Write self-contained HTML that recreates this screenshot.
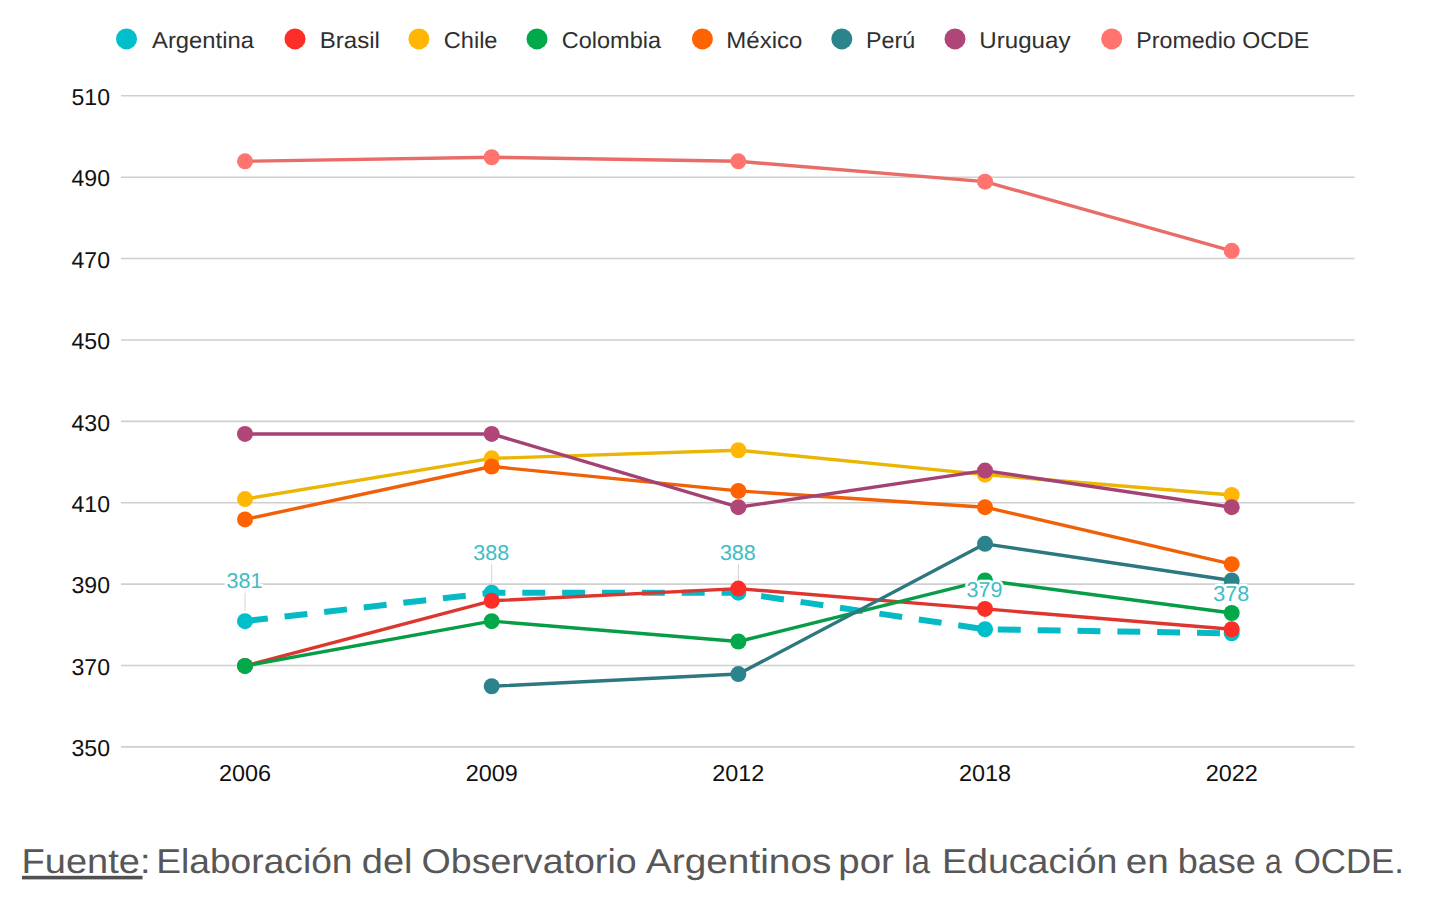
<!DOCTYPE html>
<html><head><meta charset="utf-8"><style>
html,body{margin:0;padding:0;background:#fff;width:1440px;height:918px;overflow:hidden}
svg{position:absolute;left:0;top:0;display:block}
text{font-family:"Liberation Sans",sans-serif;text-rendering:geometricPrecision}
.ax{font-size:23px;fill:#111}
.lg{font-size:22.8px;fill:#303030}
.dl{font-size:21.5px;fill:#40bcc5;stroke:#fff;stroke-width:5;paint-order:stroke;stroke-linejoin:round}
.ft{font-size:34.5px;fill:#575757}
</style></head><body>
<svg width="1440" height="918" viewBox="0 0 1440 918">
<line x1="121" x2="1354.5" y1="95.80" y2="95.80" stroke="#cfcfcf" stroke-width="1.6"/>
<text x="110" y="105.00" text-anchor="end" class="ax" textLength="38.5" lengthAdjust="spacingAndGlyphs">510</text>
<line x1="121" x2="1354.5" y1="177.19" y2="177.19" stroke="#cfcfcf" stroke-width="1.6"/>
<text x="110" y="186.39" text-anchor="end" class="ax" textLength="38.5" lengthAdjust="spacingAndGlyphs">490</text>
<line x1="121" x2="1354.5" y1="258.57" y2="258.57" stroke="#cfcfcf" stroke-width="1.6"/>
<text x="110" y="267.77" text-anchor="end" class="ax" textLength="38.5" lengthAdjust="spacingAndGlyphs">470</text>
<line x1="121" x2="1354.5" y1="339.96" y2="339.96" stroke="#cfcfcf" stroke-width="1.6"/>
<text x="110" y="349.16" text-anchor="end" class="ax" textLength="38.5" lengthAdjust="spacingAndGlyphs">450</text>
<line x1="121" x2="1354.5" y1="421.34" y2="421.34" stroke="#cfcfcf" stroke-width="1.6"/>
<text x="110" y="430.54" text-anchor="end" class="ax" textLength="38.5" lengthAdjust="spacingAndGlyphs">430</text>
<line x1="121" x2="1354.5" y1="502.73" y2="502.73" stroke="#cfcfcf" stroke-width="1.6"/>
<text x="110" y="511.93" text-anchor="end" class="ax" textLength="38.5" lengthAdjust="spacingAndGlyphs">410</text>
<line x1="121" x2="1354.5" y1="584.12" y2="584.12" stroke="#cfcfcf" stroke-width="1.6"/>
<text x="110" y="593.32" text-anchor="end" class="ax" textLength="38.5" lengthAdjust="spacingAndGlyphs">390</text>
<line x1="121" x2="1354.5" y1="665.50" y2="665.50" stroke="#cfcfcf" stroke-width="1.6"/>
<text x="110" y="674.70" text-anchor="end" class="ax" textLength="38.5" lengthAdjust="spacingAndGlyphs">370</text>
<line x1="121" x2="1354.5" y1="746.89" y2="746.89" stroke="#cfcfcf" stroke-width="1.6"/>
<text x="110" y="756.09" text-anchor="end" class="ax" textLength="38.5" lengthAdjust="spacingAndGlyphs">350</text>
<text x="245.00" y="780.8" text-anchor="middle" class="ax" textLength="52" lengthAdjust="spacingAndGlyphs">2006</text>
<text x="491.68" y="780.8" text-anchor="middle" class="ax" textLength="52" lengthAdjust="spacingAndGlyphs">2009</text>
<text x="738.35" y="780.8" text-anchor="middle" class="ax" textLength="52" lengthAdjust="spacingAndGlyphs">2012</text>
<text x="985.03" y="780.8" text-anchor="middle" class="ax" textLength="52" lengthAdjust="spacingAndGlyphs">2018</text>
<text x="1231.70" y="780.8" text-anchor="middle" class="ax" textLength="52" lengthAdjust="spacingAndGlyphs">2022</text>
<line x1="245.00" x2="245.00" y1="592.64" y2="611.14" stroke="#d4d4d4" stroke-width="1"/>
<line x1="491.68" x2="491.68" y1="564.15" y2="582.65" stroke="#d4d4d4" stroke-width="1"/>
<line x1="738.35" x2="738.35" y1="564.15" y2="582.65" stroke="#d4d4d4" stroke-width="1"/>
<line x1="985.03" x2="985.03" y1="600.78" y2="619.28" stroke="#d4d4d4" stroke-width="1"/>
<line x1="1231.70" x2="1231.70" y1="604.85" y2="623.35" stroke="#d4d4d4" stroke-width="1"/>
<path d="M245.00 621.14 L491.68 592.65 L738.35 592.65 L985.03 629.28 L1231.70 633.35" fill="none" stroke="#06bac5" stroke-width="6" stroke-dasharray="22.95 16.9" stroke-linejoin="round"/>
<circle cx="245.00" cy="621.14" r="8" fill="#00bfcb"/>
<circle cx="491.68" cy="592.65" r="8" fill="#00bfcb"/>
<circle cx="738.35" cy="592.65" r="8" fill="#00bfcb"/>
<circle cx="985.03" cy="629.28" r="8" fill="#00bfcb"/>
<circle cx="1231.70" cy="633.35" r="8" fill="#00bfcb"/>
<path d="M245.00 665.90 L491.68 600.79 L738.35 588.59 L985.03 608.93 L1231.70 629.28" fill="none" stroke="#dd362f" stroke-width="3.4" stroke-linejoin="round"/>
<circle cx="245.00" cy="665.90" r="8" fill="#fd2d27"/>
<circle cx="491.68" cy="600.79" r="8" fill="#fd2d27"/>
<circle cx="738.35" cy="588.59" r="8" fill="#fd2d27"/>
<circle cx="985.03" cy="608.93" r="8" fill="#fd2d27"/>
<circle cx="1231.70" cy="629.28" r="8" fill="#fd2d27"/>
<path d="M245.00 499.06 L491.68 458.37 L738.35 450.23 L985.03 474.64 L1231.70 494.99" fill="none" stroke="#ebb603" stroke-width="3.4" stroke-linejoin="round"/>
<circle cx="245.00" cy="499.06" r="8" fill="#ffb703"/>
<circle cx="491.68" cy="458.37" r="8" fill="#ffb703"/>
<circle cx="738.35" cy="450.23" r="8" fill="#ffb703"/>
<circle cx="985.03" cy="474.64" r="8" fill="#ffb703"/>
<circle cx="1231.70" cy="494.99" r="8" fill="#ffb703"/>
<path d="M245.00 665.90 L491.68 621.14 L738.35 641.49 L985.03 580.45 L1231.70 613.00" fill="none" stroke="#079c46" stroke-width="3.4" stroke-linejoin="round"/>
<circle cx="245.00" cy="665.90" r="8" fill="#02a94a"/>
<circle cx="491.68" cy="621.14" r="8" fill="#02a94a"/>
<circle cx="738.35" cy="641.49" r="8" fill="#02a94a"/>
<circle cx="985.03" cy="580.45" r="8" fill="#02a94a"/>
<circle cx="1231.70" cy="613.00" r="8" fill="#02a94a"/>
<path d="M245.00 519.41 L491.68 466.51 L738.35 490.92 L985.03 507.20 L1231.70 564.17" fill="none" stroke="#f06008" stroke-width="3.4" stroke-linejoin="round"/>
<circle cx="245.00" cy="519.41" r="8" fill="#ff6200"/>
<circle cx="491.68" cy="466.51" r="8" fill="#ff6200"/>
<circle cx="738.35" cy="490.92" r="8" fill="#ff6200"/>
<circle cx="985.03" cy="507.20" r="8" fill="#ff6200"/>
<circle cx="1231.70" cy="564.17" r="8" fill="#ff6200"/>
<path d="M491.68 686.25 L738.35 674.04 L985.03 543.82 L1231.70 580.45" fill="none" stroke="#2d7880" stroke-width="3.4" stroke-linejoin="round"/>
<circle cx="491.68" cy="686.25" r="8" fill="#2b838b"/>
<circle cx="738.35" cy="674.04" r="8" fill="#2b838b"/>
<circle cx="985.03" cy="543.82" r="8" fill="#2b838b"/>
<circle cx="1231.70" cy="580.45" r="8" fill="#2b838b"/>
<path d="M245.00 433.95 L491.68 433.95 L738.35 507.20 L985.03 470.58 L1231.70 507.20" fill="none" stroke="#a44373" stroke-width="3.4" stroke-linejoin="round"/>
<circle cx="245.00" cy="433.95" r="8" fill="#b04677"/>
<circle cx="491.68" cy="433.95" r="8" fill="#b04677"/>
<circle cx="738.35" cy="507.20" r="8" fill="#b04677"/>
<circle cx="985.03" cy="470.58" r="8" fill="#b04677"/>
<circle cx="1231.70" cy="507.20" r="8" fill="#b04677"/>
<path d="M245.00 161.31 L491.68 157.24 L738.35 161.31 L985.03 181.66 L1231.70 250.83" fill="none" stroke="#e86d69" stroke-width="3.4" stroke-linejoin="round"/>
<circle cx="245.00" cy="161.31" r="8" fill="#ff746e"/>
<circle cx="491.68" cy="157.24" r="8" fill="#ff746e"/>
<circle cx="738.35" cy="161.31" r="8" fill="#ff746e"/>
<circle cx="985.03" cy="181.66" r="8" fill="#ff746e"/>
<circle cx="1231.70" cy="250.83" r="8" fill="#ff746e"/>
<text x="244.50" y="588.44" text-anchor="middle" class="dl">381</text>
<text x="491.18" y="559.95" text-anchor="middle" class="dl">388</text>
<text x="737.85" y="559.95" text-anchor="middle" class="dl">388</text>
<text x="984.53" y="596.58" text-anchor="middle" class="dl">379</text>
<text x="1231.20" y="600.65" text-anchor="middle" class="dl">378</text>
<circle cx="126.5" cy="38.9" r="10.5" fill="#00bfcb"/>
<text x="152.10" y="47.8" class="lg" textLength="101.80" lengthAdjust="spacingAndGlyphs">Argentina</text>
<circle cx="295" cy="38.9" r="10.5" fill="#fd2d27"/>
<text x="319.69" y="47.8" class="lg" textLength="60.21" lengthAdjust="spacingAndGlyphs">Brasil</text>
<circle cx="418.9" cy="38.9" r="10.5" fill="#ffb703"/>
<text x="443.76" y="47.8" class="lg" textLength="53.73" lengthAdjust="spacingAndGlyphs">Chile</text>
<circle cx="537" cy="38.9" r="10.5" fill="#02a94a"/>
<text x="561.76" y="47.8" class="lg" textLength="99.24" lengthAdjust="spacingAndGlyphs">Colombia</text>
<circle cx="702.4" cy="38.9" r="10.5" fill="#ff6200"/>
<text x="726.30" y="47.8" class="lg" textLength="76.02" lengthAdjust="spacingAndGlyphs">México</text>
<circle cx="841.8" cy="38.9" r="10.5" fill="#2b838b"/>
<text x="866.06" y="47.8" class="lg" textLength="49.18" lengthAdjust="spacingAndGlyphs">Perú</text>
<circle cx="955" cy="38.9" r="10.5" fill="#b04677"/>
<text x="979.35" y="47.8" class="lg" textLength="91.13" lengthAdjust="spacingAndGlyphs">Uruguay</text>
<circle cx="1111.7" cy="38.9" r="10.5" fill="#ff746e"/>
<text x="1136.36" y="47.8" class="lg" textLength="172.94" lengthAdjust="spacingAndGlyphs">Promedio OCDE</text>
<text x="21.61" y="873" class="ft" textLength="128.91" lengthAdjust="spacingAndGlyphs">Fuente:</text>
<text x="156.28" y="873" class="ft" textLength="196.20" lengthAdjust="spacingAndGlyphs">Elaboración</text>
<text x="361.76" y="873" class="ft" textLength="50.71" lengthAdjust="spacingAndGlyphs">del</text>
<text x="421.56" y="873" class="ft" textLength="215.08" lengthAdjust="spacingAndGlyphs">Observatorio</text>
<text x="645.89" y="873" class="ft" textLength="185.50" lengthAdjust="spacingAndGlyphs">Argentinos</text>
<text x="838.35" y="873" class="ft" textLength="55.58" lengthAdjust="spacingAndGlyphs">por</text>
<text x="904.08" y="873" class="ft" textLength="25.87" lengthAdjust="spacingAndGlyphs">la</text>
<text x="941.95" y="873" class="ft" textLength="175.57" lengthAdjust="spacingAndGlyphs">Educación</text>
<text x="1125.82" y="873" class="ft" textLength="43.03" lengthAdjust="spacingAndGlyphs">en</text>
<text x="1177.70" y="873" class="ft" textLength="78.07" lengthAdjust="spacingAndGlyphs">base</text>
<text x="1264.99" y="873" class="ft" textLength="16.69" lengthAdjust="spacingAndGlyphs">a</text>
<text x="1293.68" y="873" class="ft" textLength="110.31" lengthAdjust="spacingAndGlyphs">OCDE.</text>
<rect x="22" y="875.8" width="120.5" height="3.6" fill="#505050"/>
</svg>
</body></html>
